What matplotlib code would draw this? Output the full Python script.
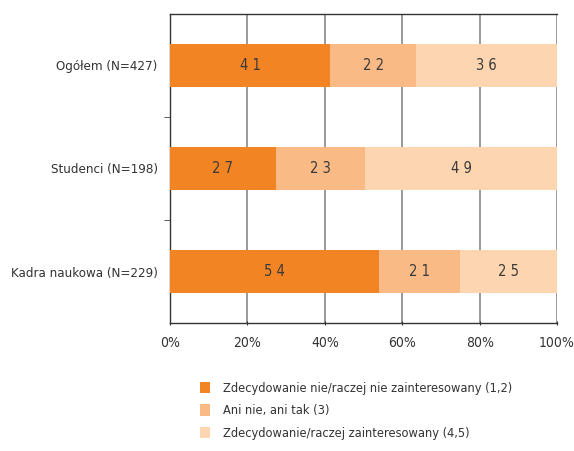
import matplotlib.pyplot as plt
import numpy as np

plt.rcParams['font.family'] = ['Liberation Sans Narrow', 'DejaVu Sans']
plt.rcParams['font.stretch'] = 'condensed'

groups = ['Ogółem (N=427)', 'Studenci (N=198)', 'Kadra naukowa (N=229)']
not_interested = [41, 27, 54]
neutral = [22, 23, 21]
interested = [36, 49, 25]
series_names = ['Zdecydowanie nie/raczej nie zainteresowany (1,2)',
                'Ani nie, ani tak (3)',
                'Zdecydowanie/raczej zainteresowany (4,5)']
colors = ['#F38423', '#F9BA86', '#FDD5B0']
xticks = [0, 20, 40, 60, 80, 100]


def main():
    fig = plt.figure(figsize=(5.74, 4.51), dpi=100)
    ax = fig.add_axes([0.2962, 0.2838, 0.6742, 0.6852])

    series = [np.array(not_interested), np.array(neutral), np.array(interested)]
    totals = sum(series)
    y = np.arange(len(groups))
    left = np.zeros(len(groups))
    for vals, col, name in zip(series, colors, series_names):
        share = vals / totals * 100
        ax.barh(y, share, left=left, height=0.41, color=col, label=name, zorder=3)
        for yi, l, s, v in zip(y, left, share, vals):
            ax.text(l + s / 2, yi, ' '.join(str(v)), ha='center', va='center',
                    fontsize=10.5, color='#3a3a3a', zorder=4)
        left = left + share

    ax.set_xlim(0, 100)
    ax.set_ylim(2.5, -0.5)
    ax.set_xticks(xticks)
    ax.set_xticklabels([f'{t}%' for t in xticks], fontsize=10, color='#333333')
    ax.set_yticks(y)
    ax.set_yticklabels(groups, fontsize=9.5, color='#333333')
    ax.set_yticks([0.5, 1.5], minor=True)
    ax.tick_params(axis='y', which='major', length=0, pad=9)
    ax.tick_params(axis='y', which='minor', length=4, color='#444444')
    ax.tick_params(axis='x', length=3, direction='inout', color='#333333', pad=8)
    ax.grid(axis='x', color='#888888', linewidth=1.2, zorder=0)
    ax.spines['right'].set_visible(False)
    for s in ['top', 'bottom', 'left']:
        ax.spines[s].set_color('#333333')
        ax.spines[s].set_linewidth(1.0)

    fig.legend(loc='upper left', bbox_to_anchor=(0.338, 0.168), frameon=False,
               fontsize=9.2, handlelength=0.75, handleheight=1.0, handletextpad=1.0,
               labelspacing=0.75, borderpad=0, labelcolor='#333333')
    fig.savefig('out.png', dpi=100)


if __name__ == "__main__":
    main()
